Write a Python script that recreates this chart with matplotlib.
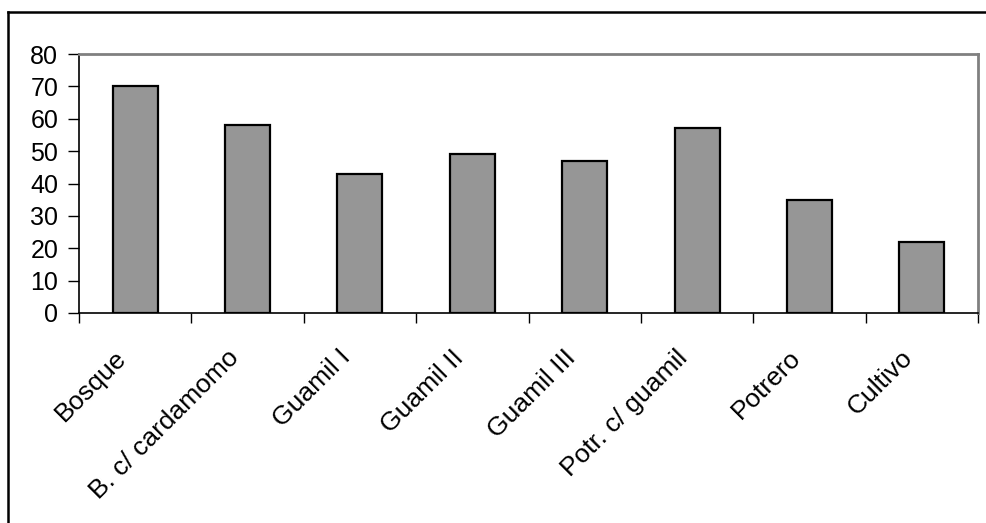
import numpy as np
import matplotlib.pyplot as plt
from matplotlib.lines import Line2D

categories = ["Bosque", "B. c/ cardamomo", "Guamil I", "Guamil II",
              "Guamil III", "Potr. c/ guamil", "Potrero", "Cultivo"]
values = [70, 58, 43, 49, 47, 57, 35, 22]
yticks = [0, 10, 20, 30, 40, 50, 60, 70, 80]

plt.rcParams['font.family'] = ['Liberation Sans', 'DejaVu Sans']

W, H = 987, 523
fig = plt.figure(figsize=(W / 100, H / 100), dpi=100)
# plot area in pixels: left 79, right 978, top 54, bottom 313
ax = fig.add_axes([79 / W, 1 - 313 / H, (978 - 79) / W, (313 - 54) / H])

x = np.arange(len(categories))
ax.bar(x, values, width=0.4, color="#969696", edgecolor="black", linewidth=1.6, zorder=3)

ax.set_xlim(-0.5, len(categories) - 0.5)
ax.set_ylim(0, 80)
ax.set_yticks(yticks)
ax.tick_params(axis='y', direction='out', length=8, width=1, labelsize=18, pad=7)

# category ticks sit between the bars
ax.set_xticks(np.arange(-0.5, len(categories) + 0.5, 1))
ax.set_xticklabels([])
ax.tick_params(axis='x', direction='out', length=7, width=1)
for xi, lab in zip(x, categories):
    ax.text(xi - 0.19, -10, lab, rotation=45, ha='right', va='top',
            rotation_mode='anchor', fontsize=19, transform=ax.transData)

for side in ['left', 'bottom']:
    ax.spines[side].set_color('black')
    ax.spines[side].set_linewidth(1.2)
for side in ['top', 'right']:
    ax.spines[side].set_color('#808080')
    ax.spines[side].set_linewidth(2)

# outer chart border (left and top visible)
fig.add_artist(Line2D([8 / W, 8 / W], [0, 1 - 12 / H], color='black', linewidth=1.8))
fig.add_artist(Line2D([8 / W, 1], [1 - 12 / H, 1 - 12 / H], color='black', linewidth=1.8))

fig.savefig("out.png", dpi=100)
